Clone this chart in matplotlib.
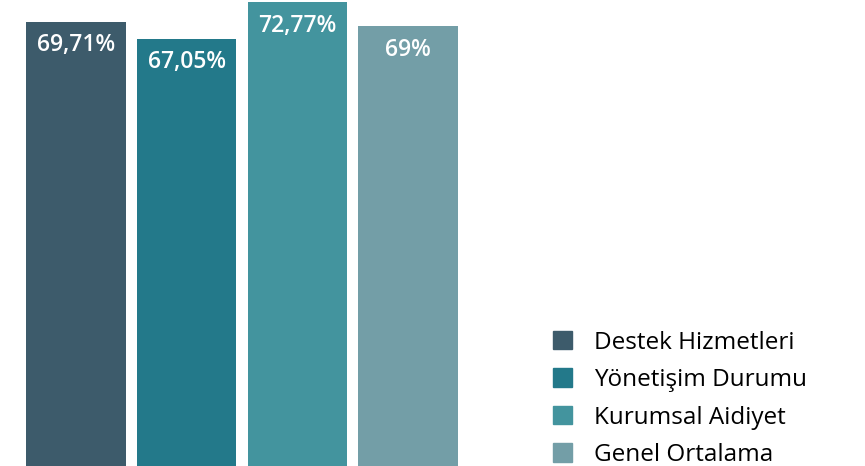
import matplotlib.pyplot as plt
from matplotlib.patches import Patch

plt.rcParams['font.family'] = ['Open Sans', 'DejaVu Sans']

categories = ['Destek Hizmetleri', 'Yönetişim Durumu', 'Kurumsal Aidiyet', 'Genel Ortalama']
values = [69.71, 67.05, 72.77, 69.0]
labels = ['69,71%', '67,05%', '72,77%', '69%']
colors = ['#3d5b6b', '#23798a', '#43949e', '#739ea7']

fig = plt.figure(figsize=(8.65, 4.66), dpi=100)
ax = fig.add_axes([0, 0, 1, 1])

x = range(len(values))
bars = ax.bar(x, values, width=0.9, color=colors)

for xi, v, lab in zip(x, values, labels):
    ax.annotate(lab, (xi, v), xytext=(0, -17), textcoords='offset points',
                ha='center', va='center', color='white', fontsize=16.5,
                fontweight='semibold')

ax.set_xlim(-0.687, 7.13)
ax.set_ylim(0, 73.09)
ax.axis('off')

handles = [Patch(color=c) for c in colors]
fig.legend(handles, categories, loc='lower left', bbox_to_anchor=(534 / 865, -0.044),
           frameon=False, fontsize=17.5, handlelength=0.78, handleheight=0.78,
           handletextpad=0.9, labelspacing=0.555, borderpad=0.3)

fig.savefig('out.png', dpi=100)
